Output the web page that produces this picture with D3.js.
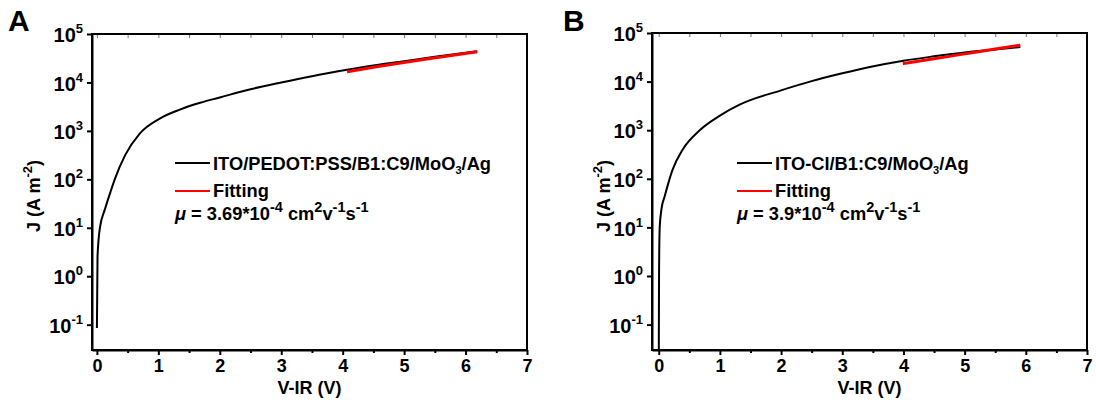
<!DOCTYPE html>
<html>
<head>
<meta charset="utf-8">
<script src="https://cdn.jsdelivr.net/npm/d3@7"></script>
<style>
  body { margin: 0; background: #fff; }
  svg { display: block; font-family: "Liberation Sans", Arial, sans-serif; font-weight: bold; }
</style>
</head>
<body>
<div id="chart"></div>
<script>
var width = 1096, height = 409;

// tick labels
var xTicks    = [0, 1, 2, 3, 4, 5, 6, 7];
var xMinor    = [0.5, 1.5, 2.5, 3.5, 4.5, 5.5, 6.5];
var yTickExp  = [-1, 0, 1, 2, 3, 4, 5];

// panel A : measured J-V (V-IR, J) and fitting
var vA   = [0, 0.01, 0.05, 0.13, 0.21, 0.29, 0.46, 0.7, 1.03, 1.35, 1.68, 2.0, 2.5, 3.0, 3.5, 4.07, 4.5, 5.0, 5.5, 6.19];
var jA   = [0.085, 2.57, 10.2, 24, 50, 100, 316, 891, 1820, 2750, 3802, 4898, 7244, 10000, 13490, 18200, 22400, 27500, 33900, 44000];
var vFitA = [4.07, 4.6, 5.1, 5.6, 6.19];
var jFitA = [16600, 21500, 27000, 33500, 43000];

// panel B
var vB   = [0, 0.005, 0.016, 0.044, 0.1, 0.15, 0.23, 0.39, 0.67, 1.0, 1.33, 2.0, 2.5, 3.0, 3.45, 4.0, 4.5, 5.0, 5.5, 5.91];
var jB   = [0.01, 1, 10, 23.4, 44.7, 75.9, 158, 398, 1000, 1995, 3388, 6607, 10233, 14791, 19953, 26900, 33100, 39800, 45700, 51300];
var vFitB = [3.99, 4.5, 5.0, 5.5, 5.91];
var jFitB = [23500, 29500, 37200, 46800, 56000];

var labelsA = ["ITO/PEDOT:PSS/B1:C9/MoO", "3", "/Ag"];
var labelsB = ["ITO-Cl/B1:C9/MoO", "3", "/Ag"];
var muA = "3.69";
var muB = "3.9";

var svg = d3.select("#chart").append("svg")
    .attr("width", width)
    .attr("height", height);

function zip(xs, ys) {
    return xs.map(function(v, i) { return [v, ys[i]]; });
}

function drawPanel(opt) {
    var x = d3.scaleLinear().domain(opt.xDomain).range([opt.left, opt.right]);
    var y = d3.scaleLog().domain([0.03, 1e5]).range([opt.bottom, opt.top]);

    var g = svg.append("g");

    g.append("clipPath").attr("id", "clip" + opt.id)
        .append("rect")
        .attr("x", opt.left).attr("y", opt.top)
        .attr("width", opt.right - opt.left).attr("height", opt.bottom - opt.top);

    var line = d3.line()
        .x(function(d) { return x(d[0]); })
        .y(function(d) { return y(d[1]); })
        .curve(d3.curveMonotoneX);

    var plot = g.append("g").attr("clip-path", "url(#clip" + opt.id + ")");
    plot.append("path")
        .datum(zip(opt.v, opt.j))
        .attr("d", line)
        .attr("fill", "none")
        .attr("stroke", "#000")
        .attr("stroke-width", 2);
    plot.append("path")
        .datum(zip(opt.vFit, opt.jFit))
        .attr("d", line)
        .attr("fill", "none")
        .attr("stroke", "#ff0000")
        .attr("stroke-width", 3);

    // top mirror ticks (inward)
    g.append("g")
        .attr("transform", "translate(0," + opt.top + ")")
        .call(d3.axisTop(x).tickValues(xTicks.concat(xMinor)).tickSize(-4).tickFormat(""))
        .call(function(a) { a.select(".domain").remove(); a.selectAll("line").attr("stroke", "#777").attr("stroke-width", 1); });

    // bottom axis
    var xAxis = g.append("g")
        .attr("transform", "translate(0," + opt.bottom + ")")
        .call(d3.axisBottom(x).tickValues(xTicks).tickSizeInner(5).tickSizeOuter(0).tickPadding(4));
    xAxis.selectAll("text").attr("font-size", 18).attr("fill", "#000").attr("font-weight", "bold")
        .attr("font-family", "Liberation Sans, Arial, sans-serif");
    g.append("g")
        .attr("transform", "translate(0," + opt.bottom + ")")
        .call(d3.axisBottom(x).tickValues(xMinor).tickSize(3).tickFormat(""))
        .call(function(a) { a.select(".domain").remove(); });

    // left axis
    var yAxis = g.append("g")
        .attr("transform", "translate(" + opt.left + ",0)")
        .call(d3.axisLeft(y).tickValues(yTickExp.map(function(e) { return Math.pow(10, e); }))
            .tickSizeInner(5).tickSizeOuter(0).tickPadding(4).tickFormat(""));
    yAxis.selectAll(".tick text").each(function(d) {
        var t = d3.select(this)
            .attr("font-size", 20).attr("fill", "#000")
            .attr("font-family", "Liberation Sans, Arial, sans-serif")
            .attr("font-weight", "bold")
            .attr("dy", "0.38em");
        t.append("tspan").text("10");
        t.append("tspan").attr("font-size", 13).attr("dy", -9)
            .text(String(Math.round(Math.log10(d))));
    });

    g.selectAll(".domain").attr("stroke-width", 2);
    g.selectAll(".tick line").filter(function() { return !this.getAttribute("stroke") || this.getAttribute("stroke") === "currentColor"; })
        .attr("stroke-width", 2);

    // frame
    g.append("rect")
        .attr("x", opt.left).attr("y", opt.top)
        .attr("width", opt.right - opt.left).attr("height", opt.bottom - opt.top)
        .attr("fill", "none").attr("stroke", "#000").attr("stroke-width", 2);

    // axis titles
    g.append("text")
        .attr("x", (opt.left + opt.right) / 2).attr("y", 394)
        .attr("text-anchor", "middle").attr("font-size", 18)
        .text("V-IR (V)");

    var yt = g.append("text")
        .attr("transform", "translate(" + opt.yTitleX + ",196) rotate(-90)")
        .attr("text-anchor", "middle").attr("font-size", 18);
    yt.append("tspan").text("J (A m");
    yt.append("tspan").attr("font-size", 13).attr("dy", -8).text("-2");
    yt.append("tspan").attr("dy", 8).text(")");

    // panel letter
    g.append("text")
        .attr("x", opt.letterX).attr("y", 31)
        .attr("font-size", 30)
        .text(opt.letter);

    // legend
    var lx = opt.legendX;
    g.append("line").attr("x1", lx).attr("x2", lx + 35).attr("y1", 163).attr("y2", 163)
        .attr("stroke", "#000").attr("stroke-width", 2);
    g.append("line").attr("x1", lx).attr("x2", lx + 35).attr("y1", 191).attr("y2", 191)
        .attr("stroke", "#ff0000").attr("stroke-width", 2);

    var t1 = g.append("text").attr("x", lx + 38).attr("y", 170).attr("font-size", 18.3);
    t1.append("tspan").text(opt.labels[0]);
    t1.append("tspan").attr("font-size", 11).attr("dy", 4).text(opt.labels[1]);
    t1.append("tspan").attr("dy", -4).text(opt.labels[2]);

    g.append("text").attr("x", lx + 38).attr("y", 197).attr("font-size", 18.3).text("Fitting");

    var mu = g.append("text").attr("x", lx).attr("y", 220).attr("font-size", 18.3);
    mu.append("tspan").attr("font-style", "italic").text("\u03bc");
    mu.append("tspan").text(" = " + opt.mu + "*10");
    mu.append("tspan").attr("font-size", 14.5).attr("dy", -8).text("-4");
    mu.append("tspan").attr("dy", 8).text("  cm");
    mu.append("tspan").attr("font-size", 14.5).attr("dy", -8).text("2");
    mu.append("tspan").attr("dy", 8).text("v");
    mu.append("tspan").attr("font-size", 14.5).attr("dy", -8).text("-1");
    mu.append("tspan").attr("dy", 8).text("s");
    mu.append("tspan").attr("font-size", 14.5).attr("dy", -8).text("-1");
}

drawPanel({
    id: "A", letter: "A", letterX: 8,
    left: 92, right: 527, top: 34, bottom: 350, xDomain: [-0.08, 7],
    yTitleX: 40, legendX: 175,
    v: vA, j: jA, vFit: vFitA, jFit: jFitA, labels: labelsA, mu: muA
});

drawPanel({
    id: "B", letter: "B", letterX: 563,
    left: 652, right: 1087, top: 33, bottom: 350, xDomain: [-0.11, 7],
    yTitleX: 610, legendX: 737,
    v: vB, j: jB, vFit: vFitB, jFit: jFitB, labels: labelsB, mu: muB
});
</script>
</body>
</html>
